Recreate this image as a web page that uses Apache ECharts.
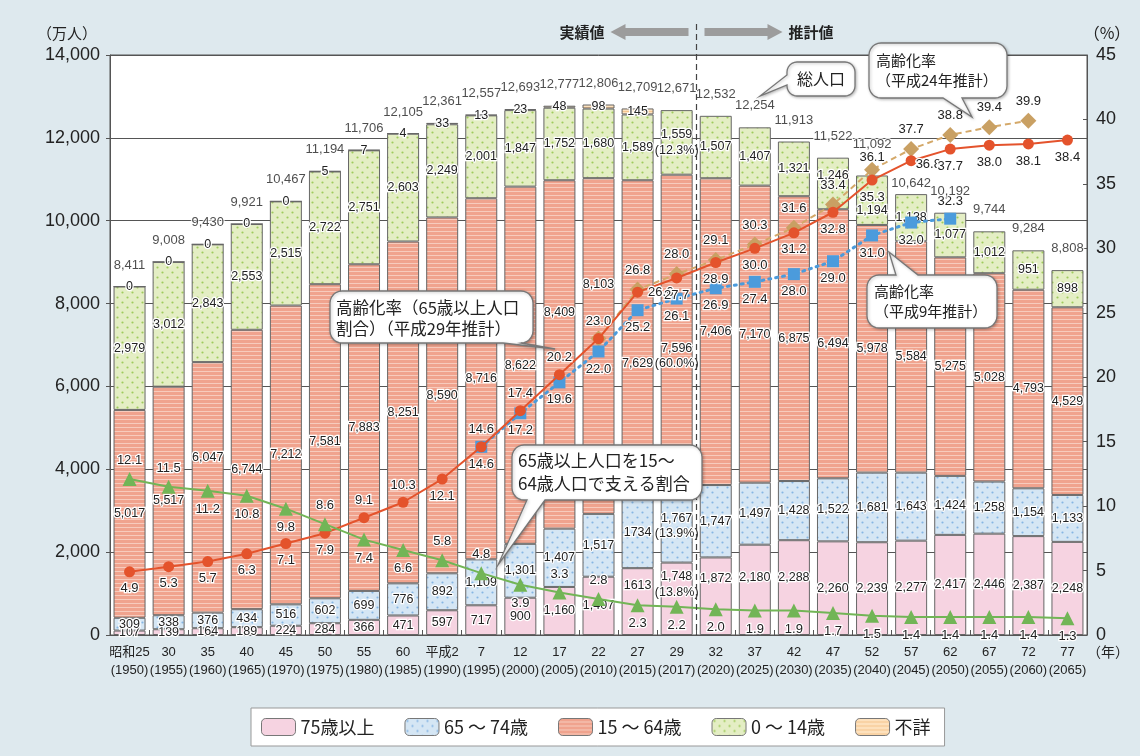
<!DOCTYPE html>
<html><head><meta charset="utf-8">
<script src="https://cdn.jsdelivr.net/npm/echarts@6/dist/echarts.min.js"></script>
<style>html,body{margin:0;padding:0;background:#dee9ee;} #c{width:1140px;height:756px;}</style>
</head><body><div id="c"></div>
<script>
// ---------------- DATA ----------------
const categories = ['昭和25\n(1950)','30\n(1955)','35\n(1960)','40\n(1965)','45\n(1970)','50\n(1975)','55\n(1980)','60\n(1985)','平成2\n(1990)','7\n(1995)','12\n(2000)','17\n(2005)','22\n(2010)','27\n(2015)','29\n(2017)','32\n(2020)','37\n(2025)','42\n(2030)','47\n(2035)','52\n(2040)','57\n(2045)','62\n(2050)','67\n(2055)','72\n(2060)','77\n(2065)'];
const age75plus = [107,139,164,189,224,284,366,471,597,717,900,1160,1407,1613,1748,1872,2180,2288,2260,2239,2277,2417,2446,2387,2248];
const age65to74 = [309,338,376,434,516,602,699,776,892,1109,1301,1407,1517,1734,1767,1747,1497,1428,1522,1681,1643,1424,1258,1154,1133];
const age15to64 = [5017,5517,6047,6744,7212,7581,7883,8251,8590,8716,8622,8409,8103,7629,7596,7406,7170,6875,6494,5978,5584,5275,5028,4793,4529];
const age0to14  = [2979,3012,2843,2553,2515,2722,2751,2603,2249,2001,1847,1752,1680,1589,1559,1507,1407,1321,1246,1194,1138,1077,1012,951,898];
const ageUnknown = [0,0,0,0,0,5,7,4,33,13,23,48,98,145,null,null,null,null,null,null,null,null,null,null,null];
const totalPop = [8411,9008,9430,9921,10467,11194,11706,12105,12361,12557,12693,12777,12806,12709,12671,12532,12254,11913,11522,11092,10642,10192,9744,9284,8808];
const share2017 = [13.8,13.9,60.0,12.3]; // 75+, 65-74, 15-64, 0-14 (%)
const agingRateH29 = [4.9,5.3,5.7,6.3,7.1,7.9,9.1,10.3,12.1,14.6,17.4,20.2,23.0,26.6,27.7,28.9,30.0,31.2,32.8,35.3,36.8,37.7,38.0,38.1,38.4];
const agingRateH24 = [null,null,null,null,null,null,null,null,null,null,null,null,23.0,26.8,28.0,29.1,30.3,31.6,33.4,36.1,37.7,38.8,39.4,39.9,null];
const agingRateH9  = [null,null,null,null,null,null,null,null,null,14.6,17.2,19.6,22.0,25.2,26.1,26.9,27.4,28.0,29.0,31.0,32.0,32.3,null,null,null];
const supportRatio = [12.1,11.5,11.2,10.8,9.8,8.6,7.4,6.6,5.8,4.8,3.9,3.3,2.8,2.3,2.2,2.0,1.9,1.9,1.7,1.5,1.4,1.4,1.4,1.4,1.3];
const leftTicks = [0,2000,4000,6000,8000,10000,12000,14000];
const rightTicks = [0,5,10,15,20,25,30,35,40,45];

// ---------------- STYLE ----------------
const CJK = '"Noto Sans CJK JP", sans-serif';
const NUM = '"Liberation Sans", sans-serif';
const NUMSIZE = 12.5;

function pattern(bg, draw, w, h){
  const c=document.createElement('canvas'); c.width=w; c.height=h;
  const g=c.getContext('2d'); g.fillStyle=bg; g.fillRect(0,0,w,h); if(draw) draw(g);
  return {image:c, repeat:'repeat'};
}
function dots(col){ return g=>{ g.fillStyle=col; g.beginPath(); g.arc(2.5,2.5,1.1,0,Math.PI*2); g.arc(7.5,7.5,1.1,0,Math.PI*2); g.fill(); }; }
const colPink = '#f6d3e1';
const colBlue = pattern('#d5e6f4', dots('#86b6e3'), 10, 10);
const colSalmon = pattern('#f0a38e', g=>{ g.fillStyle='#f7cbbd'; g.fillRect(0,3,4,1); }, 4, 4);
const colGreen = pattern('#e4eec4', dots('#9fcb5c'), 10, 10);
const colUnknown = pattern('#fde1bd', g=>{ g.fillStyle='#f5c58e'; g.fillRect(0,3,4,1); }, 4, 4);

const fmt = v => v==null ? '' : v.toLocaleString('en-US');
const labelBase = {show:true, color:'#222', fontFamily:NUM, fontSize:NUMSIZE, textBorderColor:'#fff', textBorderWidth:2.5};
const labelShift = {
  '75歳以上': {13:-16,14:-14,15:-18,16:-12,17:-10},
  '15～64歳': {2:-30,11:-42,12:-61,13:25,14:24},
  '0～14歳': {18:-8,19:10}
};
const noComma = {'75歳以上':[13], '65～74歳':[13]};

function barSeries(name, values, color, shareIdx){
  return {
    name, type:'bar', stack:'pop', barWidth:32, z:2,
    itemStyle:{color, borderColor:'#666', borderWidth:1},
    label:Object.assign({}, labelBase, {position:'inside', lineHeight:NUMSIZE+3}),
    data: values.map((v,i)=>{
      if(v==null) return null;
      let txt = (noComma[name]||[]).includes(i) ? String(v) : fmt(v);
      if(i===14 && shareIdx!=null) txt += '\n(' + share2017[shareIdx].toFixed(1) + '%)';
      const sh = (labelShift[name]||{})[i]||0;
      return {value:v, label:{formatter:txt, offset:[0,sh]}};
    })
  };
}
function lineSeries(name, values, opt, positions, offsets){
  offsets = offsets || {};
  return Object.assign({
    name, type:'line', yAxisIndex:1, connectNulls:false,
    data: values.map((v,i)=> v==null ? null : {value:v, label:{show: positions[i]!=='none', position: positions[i]==='none'?'top':positions[i], offset: offsets[i]||[0,0]}}),
    label:Object.assign({}, labelBase, {fontSize:13, formatter:p=>p.value.toFixed(1)})
  }, opt);
}
const B='bottom', T='top', R='right';
const redPos = [B,B,B,B,B,B,T,T,B,T,T,T,T,R,B,B,B,B,B,B,R,B,B,B,B];
const redOff = {20:[-6,4]};
const diaPos = Array(25).fill(T); diaPos[12]='none';
const diaOff = {19:[0,7]};
const bluePos = Array(25).fill(B); bluePos[21]=T;
const greenPos = [T,T,B,B,B,T,B,B,T,T,B,T,T,B,B,B,B,B,B,B,B,B,B,B,B];
const totalShift = {19:-10, 20:11};

const option = {
  backgroundColor:'#dee9ee',
  animation:false,
  grid:{left:110, right:53, top:55, bottom:121, show:true, backgroundColor:'#fff', borderColor:'#555', borderWidth:1},
  legend:{
    data:['75歳以上','65～74歳','15～64歳','0～14歳','不詳'],
    left:251, top:708, itemWidth:34, itemHeight:17, itemGap:30,
    padding:[10,14,10,10], backgroundColor:'#fff', borderColor:'#999', borderWidth:1,
    formatter:n=>n.replace('～',' ～ '),
    textStyle:{fontFamily:CJK, fontSize:18, color:'#222'},
    itemStyle:{borderColor:'#777', borderWidth:1}
  },
  xAxis:{
    type:'category', data:categories,
    axisLine:{show:true, lineStyle:{color:'#555'}},
    axisTick:{show:true, inside:true, length:5, lineStyle:{color:'#555'}},
    axisLabel:{interval:0, color:'#222', fontFamily:'"Liberation Sans", '+CJK, fontSize:13, lineHeight:18, margin:8}
  },
  yAxis:[
    {type:'value', min:leftTicks[0], max:leftTicks[leftTicks.length-1], interval:leftTicks[1]-leftTicks[0],
     axisLine:{show:true, lineStyle:{color:'#555'}}, axisTick:{show:true, length:4, lineStyle:{color:'#555'}},
     splitLine:{show:true, lineStyle:{color:'#555', width:1}},
     axisLabel:{color:'#222', fontFamily:'"Liberation Sans", sans-serif', fontSize:18, margin:10, formatter:v=>fmt(v)}},
    {type:'value', min:rightTicks[0], max:rightTicks[rightTicks.length-1], interval:rightTicks[1]-rightTicks[0],
     axisLine:{show:true, lineStyle:{color:'#555'}}, axisTick:{show:true, inside:true, length:4, lineStyle:{color:'#555'}},
     splitLine:{show:false},
     axisLabel:{color:'#222', fontFamily:'"Liberation Sans", sans-serif', fontSize:18, margin:9}}
  ],
  series:[
    barSeries('75歳以上', age75plus, colPink, 0),
    barSeries('65～74歳', age65to74, colBlue, 1),
    barSeries('15～64歳', age15to64, colSalmon, 2),
    barSeries('0～14歳', age0to14, colGreen, 3),
    barSeries('不詳', ageUnknown, colUnknown, null),
    {name:'総人口', type:'scatter', yAxisIndex:0, symbolSize:2, z:6, itemStyle:{color:'rgba(0,0,0,0)'}, silent:true,
     label:Object.assign({}, labelBase, {position:'top', distance:14, fontSize:13}),
     data: totalPop.map((v,i)=>({value:v, label:{formatter:fmt(v), offset:[0,totalShift[i]||0]}}))},
    lineSeries('高齢化率（平成24年推計）', agingRateH24,
      {symbol:'diamond', symbolSize:16, z:4, itemStyle:{color:'#c9a063'}, lineStyle:{color:'#d4a868', width:2, type:[6,4]}}, diaPos, diaOff),
    lineSeries('高齢化率（平成9年推計）', agingRateH9,
      {symbol:'rect', symbolSize:12, z:4, itemStyle:{color:'#4b9bdc'}, lineStyle:{color:'#4b9bdc', width:3, type:[2,5], cap:'round'}}, bluePos),
    lineSeries('高齢化率（平成29年推計）', agingRateH29,
      {symbol:'circle', symbolSize:11, z:5, itemStyle:{color:'#e4532c'}, lineStyle:{color:'#e4532c', width:2}}, redPos, redOff),
    lineSeries('65歳以上人口を15～64歳人口で支える割合', supportRatio,
      {symbol:'triangle', symbolSize:14, z:5, itemStyle:{color:'#72b556'}, lineStyle:{color:'#72b556', width:2}}, greenPos)
  ]
};

const chart = echarts.init(document.getElementById('c'), null, {renderer:'canvas'});
chart.setOption(option);

// ---------------- ANNOTATIONS ----------------
function arcPts(cx,cy,r,a0,a1){
  const pts=[]; const n=6;
  for(let k=0;k<=n;k++){ const a=(a0+(a1-a0)*k/n)*Math.PI/180; pts.push([cx+r*Math.cos(a), cy+r*Math.sin(a)]); }
  return pts;
}
function callout(x,y,w,h,r,side,b1,b2,tx,ty){
  let p=[];
  p.push([x+r,y]);
  if(side==='top') p.push([b1,y],[tx,ty],[b2,y]);
  p=p.concat(arcPts(x+w-r,y+r,r,-90,0));
  p=p.concat(arcPts(x+w-r,y+h-r,r,0,90));
  if(side==='bottom') p.push([b2,y+h],[tx,ty],[b1,y+h]);
  p=p.concat(arcPts(x+r,y+h-r,r,90,180));
  if(side==='left') p.push([x,b2],[tx,ty],[x,b1]);
  p=p.concat(arcPts(x+r,y+r,r,180,270));
  return {type:'polygon', z:100, shape:{points:p}, style:{fill:'#fff', stroke:'#777', lineWidth:1.3, shadowBlur:3, shadowColor:'rgba(0,0,0,0.25)', shadowOffsetX:1, shadowOffsetY:1}};
}
function txt(x,y,text,size,extra){
  return {type:'text', z:101, x, y, style:Object.assign({text, fill:'#222', font:`${size}px ${CJK}`, lineHeight:size+5}, extra||{})};
}
const xa = chart.convertToPixel({xAxisIndex:0}, 14), xb = chart.convertToPixel({xAxisIndex:0}, 15);
const xDiv = Math.round((xa+xb)/2)+0.5;
const yBottom = chart.convertToPixel({yAxisIndex:0}, 0);
const arrowY = 32;
const graphics = [
  {type:'line', z:50, shape:{x1:xDiv, y1:24, x2:xDiv, y2:yBottom}, style:{stroke:'#444', lineWidth:1.2, lineDash:[6,4]}},
  {type:'polygon', z:50, shape:{points:[[xDiv-86,arrowY],[xDiv-71,arrowY-8],[xDiv-71,arrowY-4],[xDiv-8,arrowY-4],[xDiv-8,arrowY+4],[xDiv-71,arrowY+4],[xDiv-71,arrowY+8]]}, style:{fill:'#9c9c9c'}},
  {type:'polygon', z:50, shape:{points:[[xDiv+86,arrowY],[xDiv+71,arrowY-8],[xDiv+71,arrowY-4],[xDiv+8,arrowY-4],[xDiv+8,arrowY+4],[xDiv+71,arrowY+4],[xDiv+71,arrowY+8]]}, style:{fill:'#9c9c9c'}},
  txt(xDiv-92, arrowY, '実績値', 15, {align:'right', verticalAlign:'middle', font:`bold 15px ${CJK}`}),
  txt(xDiv+92, arrowY, '推計値', 15, {align:'left', verticalAlign:'middle', font:`bold 15px ${CJK}`}),
  txt(67, 33, '（万人）', 15, {align:'center', verticalAlign:'middle'}),
  txt(1107, 33, '（%）', 16, {align:'center', verticalAlign:'middle'}),
  txt(1108, 652, '（年）', 14, {align:'center', verticalAlign:'middle'}),
  callout(330,291,203,52,12,'bottom',503,521,555,349),
  txt(336,297,'高齢化率（65歳以上人口\n割合）（平成29年推計）',16.5,{lineHeight:21}),
  callout(512,445,190,55,12,'bottom',527,545,498,565),
  txt(518,449,'65歳以上人口を15～\n64歳人口で支える割合',17,{lineHeight:23}),
  callout(787,62,68,34,10,'left',75,85,760,96),
  txt(821,79,'総人口',16,{align:'center', verticalAlign:'middle'}),
  callout(869,43,138,55,12,'bottom',943,962,972,117),
  txt(876,50,'高齢化率\n（平成24年推計）',15,{lineHeight:20}),
  callout(867,275,130,53,12,'top',896,918,889,252),
  txt(874,281,'高齢化率\n（平成9年推計）',15,{lineHeight:20})
];
chart.setOption({graphic:graphics});
</script></body></html>
